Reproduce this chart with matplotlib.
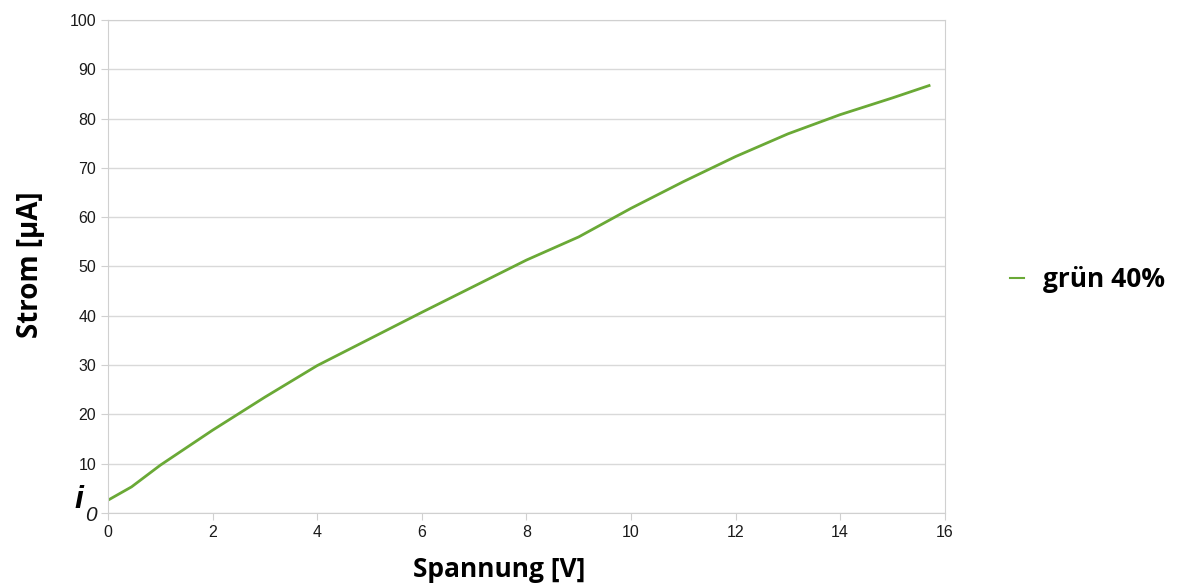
import matplotlib.pyplot as plt

# Messwerte: Spannung [V] gegen Strom [uA]
spannung = [0, 0.45, 1, 2, 3, 4, 5, 6, 7, 8, 9, 10, 11, 12, 13, 14, 15, 15.7]
strom = [2.6, 5.3, 9.7, 16.8, 23.5, 29.9, 35.3, 40.7, 46.0, 51.3, 56.0,
         61.8, 67.2, 72.3, 76.9, 80.8, 84.2, 86.7]

x_ticks = [0, 2, 4, 6, 8, 10, 12, 14, 16]
y_ticks = list(range(0, 101, 10))
y_labels = [""] + [str(v) for v in y_ticks[1:]]

fig = plt.figure(figsize=(11.78, 5.85), dpi=100)
ax = fig.add_axes([0.0917, 0.1231, 0.7103, 0.8427])

ax.plot(spannung, strom, color="#6aa936", linewidth=2, label="grün 40%")

ax.set_xlim(0, 16)
ax.set_ylim(0, 100)
ax.set_xticks(x_ticks)
ax.set_yticks(y_ticks)
ax.set_yticklabels(y_labels)
ax.grid(True, axis="y", color="#d9d9d9", linewidth=1)
for s in ax.spines.values():
    s.set_color("#d0d0d0")
ax.tick_params(colors="#d0d0d0", labelcolor="#1a1a1a", length=5,
               labelsize=11.5)
for lab in ax.get_xticklabels() + ax.get_yticklabels():
    lab.set_family("Liberation Sans")

# i_0 Beschriftung am Nullpunkt
ax.text(-0.48, 1.0, "i", fontsize=23, style="italic", fontweight="bold",
        family="Liberation Sans", ha="right", va="baseline", clip_on=False)
ax.text(-0.44, 1.4, "0", fontsize=15, style="italic",
        family="Liberation Sans", ha="left", va="top", color="#1a1a1a",
        clip_on=False)

ax.set_xlabel("Spannung [V]", fontsize=19, fontweight="bold", family="Open Sans")
ax.set_ylabel("Strom [µA]", fontsize=20, fontweight="bold", family="Open Sans")
ax.xaxis.set_label_coords(0.468, -0.088)
ax.yaxis.set_label_coords(-0.075, 0.503)

leg = ax.legend(loc="center left", bbox_to_anchor=(1.05, 0.473), frameon=False,
                handlelength=0.5, handletextpad=0.75,
                prop={"family": "Open Sans", "weight": "bold", "size": 19})
for h in leg.get_lines():
    h.set_linewidth(1.5)

plt.savefig("out.png", dpi=100)
plt.close()
